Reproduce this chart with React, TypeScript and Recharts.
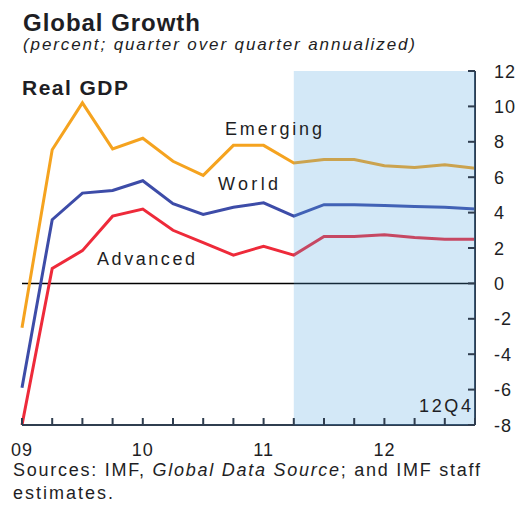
import React from 'react';
import { LineChart, Line, XAxis, YAxis, ReferenceArea, ReferenceLine } from 'recharts';

const quarters = ['09Q1','09Q2','09Q3','09Q4','10Q1','10Q2','10Q3','10Q4','11Q1','11Q2','11Q3','11Q4','12Q1','12Q2','12Q3','12Q4'];
const emerging = [-2.5, 7.55, 10.2, 7.6, 8.2, 6.9, 6.1, 7.8, 7.8, 6.8, 7.0, 7.0, 6.65, 6.55, 6.7, 6.5];
const world = [-5.9, 3.6, 5.1, 5.25, 5.8, 4.5, 3.9, 4.3, 4.55, 3.8, 4.45, 4.45, 4.4, 4.35, 4.3, 4.2];
const advanced = [-8, 0.85, 1.85, 3.8, 4.2, 3.0, 2.3, 1.6, 2.1, 1.6, 2.65, 2.65, 2.75, 2.6, 2.5, 2.5];
const yearLabels: Record<number, string> = { 0: '09', 4: '10', 8: '11', 12: '12' };
const yTicks = [-8, -6, -4, -2, 0, 2, 4, 6, 8, 10, 12];
const shadeStart = 9;
const shadeEnd = 15;

const data = quarters.map((q, i) => ({
  idx: i,
  q,
  emerging: emerging[i],
  world: world[i],
  advanced: advanced[i],
}));

const FONT = '"Liberation Sans", Arial, sans-serif';
const AXIS = '#2f3d4f';
const TXT = '#1e1e24';

const XTick = (props: any) => {
  const { x, y, payload } = props;
  const label = yearLabels[payload.value];
  return (
    <g>
      <rect x={x - 1} y={y - 7} width={2} height={7} fill={AXIS} />
      {label !== undefined && (
        <text x={x} y={y + 31} textAnchor="middle" fontFamily={FONT} fontSize={18} fill={TXT} letterSpacing={1}>
          {label}
        </text>
      )}
    </g>
  );
};

const YTick = (props: any) => {
  const { x, y, payload } = props;
  return (
    <g>
      <rect x={x - 7} y={y - 1} width={7} height={2} fill={AXIS} />
      <text x={x + 19} y={y + 6.5} textAnchor="start" fontFamily={FONT} fontSize={18} fill={TXT} letterSpacing={1}>
        {payload.value}
      </text>
    </g>
  );
};

export default function App() {
  return (
    <div style={{ position: 'absolute', left: 0, top: 0, width: 519, height: 508, background: '#fff' }}>
      <LineChart width={519} height={508} data={data} margin={{ top: 71, right: 4, bottom: 53, left: 22 }}>
        <ReferenceArea x1={shadeStart} x2={shadeEnd} y1={-8} y2={12} fill="#4ea3e0" fillOpacity={0.25} stroke="none" zIndex={1000} />
        <XAxis
          dataKey="idx"
          type="number"
          domain={[0, 15]}
          ticks={quarters.map((_, i) => i)}
          interval={0}
          height={30}
          tickSize={0}
          tickMargin={0}
          tickLine={false}
          axisLine={{ stroke: AXIS, strokeWidth: 2 }}
          tick={<XTick />}
        />
        <YAxis
          orientation="right"
          type="number"
          domain={[-8, 12]}
          ticks={yTicks}
          interval={0}
          width={40}
          tickSize={0}
          tickMargin={0}
          tickLine={false}
          axisLine={{ stroke: AXIS, strokeWidth: 2 }}
          tick={<YTick />}
        />
        <ReferenceLine y={0} stroke="#000" strokeWidth={1.5} />
        <Line type="linear" dataKey="emerging" stroke="#f5a31f" strokeWidth={3} dot={false} isAnimationActive={false} />
        <Line type="linear" dataKey="world" stroke="#3d4ca8" strokeWidth={3} dot={false} isAnimationActive={false} />
        <Line type="linear" dataKey="advanced" stroke="#ee2a3a" strokeWidth={3} dot={false} isAnimationActive={false} />
      </LineChart>
      <svg width={519} height={508} style={{ position: 'absolute', left: 0, top: 0, pointerEvents: 'none' }}>
        <text x={23} y={31} fontFamily={FONT} fontWeight="bold" fontSize={24} fill={TXT} textLength={177} lengthAdjust="spacing">Global Growth</text>
        <text x={23} y={50} fontFamily={FONT} fontStyle="italic" fontSize={17} fill={TXT} textLength={392} lengthAdjust="spacing">(percent; quarter over quarter annualized)</text>
        <text x={22} y={95} fontFamily={FONT} fontWeight="bold" fontSize={21} fill={TXT} textLength={106} lengthAdjust="spacing">Real GDP</text>
        <text x={225} y={135} fontFamily={FONT} fontSize={18} fill={TXT} textLength={97} lengthAdjust="spacing">Emerging</text>
        <text x={218} y={190} fontFamily={FONT} fontSize={18} fill={TXT} textLength={60} lengthAdjust="spacing">World</text>
        <text x={97} y={265} fontFamily={FONT} fontSize={18} fill={TXT} textLength={98} lengthAdjust="spacing">Advanced</text>
        <text x={419} y={412} fontFamily={FONT} fontSize={18} fill={TXT} textLength={52} lengthAdjust="spacing">12Q4</text>
        <text x={13} y={476} fontFamily={FONT} fontSize={18} fill={TXT} textLength={467} lengthAdjust="spacing">
          Sources: IMF, <tspan fontStyle="italic">Global Data Source</tspan>; and IMF staff
        </text>
        <text x={13} y={499} fontFamily={FONT} fontSize={18} fill={TXT} textLength={100} lengthAdjust="spacing">estimates.</text>
      </svg>
    </div>
  );
}
